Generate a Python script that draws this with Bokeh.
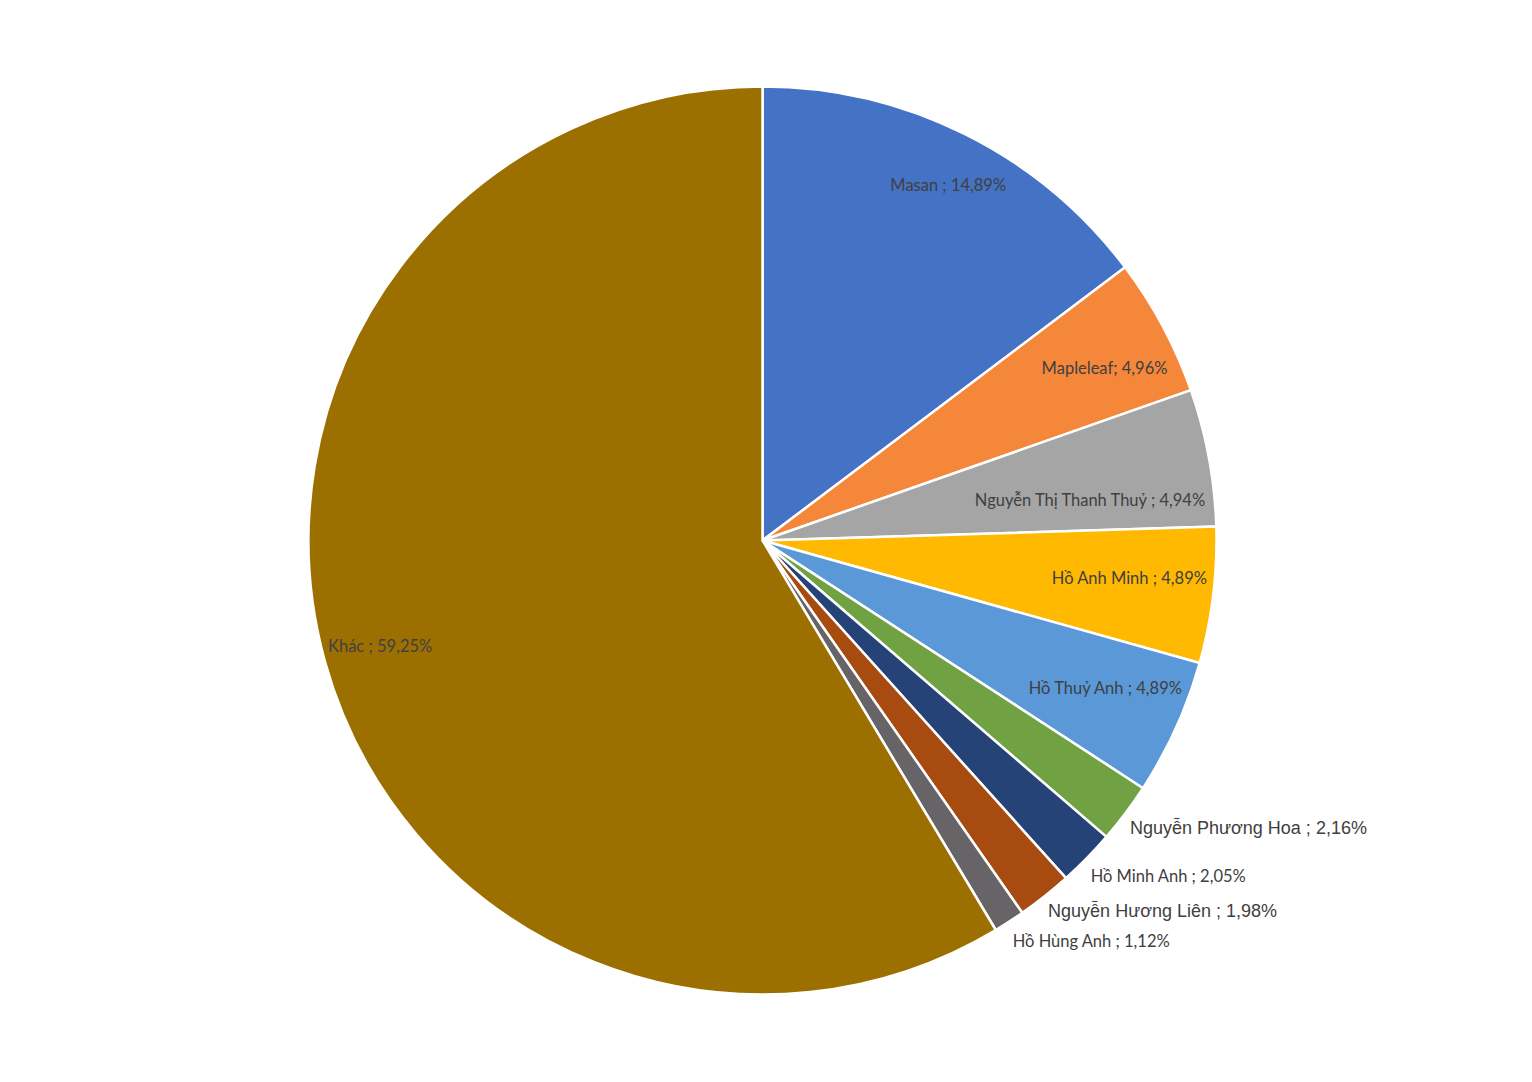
import math
from bokeh.plotting import figure
from bokeh.models import ColumnDataSource
from bokeh.core.properties import value
from bokeh.embed import file_html
from bokeh.resources import INLINE

# ---- data ----
names = ["Masan", "Mapleleaf", "Nguyễn Thị Thanh Thuỷ", "Hồ Anh Minh", "Hồ Thuỷ Anh",
         "Nguyễn Phương Hoa", "Hồ Minh Anh", "Nguyễn Hương Liên", "Hồ Hùng Anh", "Khác"]
shares = [14.89, 4.96, 4.94, 4.89, 4.89, 2.16, 2.05, 1.98, 1.12, 59.25]
label_texts = ["Masan ; 14,89%", "Mapleleaf; 4,96%", "Nguyễn Thị Thanh Thuỷ ; 4,94%",
               "Hồ Anh Minh ; 4,89%", "Hồ Thuỷ Anh ; 4,89%", "Nguyễn Phương Hoa ; 2,16%",
               "Hồ Minh Anh ; 2,05%", "Nguyễn Hương Liên ; 1,98%", "Hồ Hùng Anh ; 1,12%",
               "Khác ; 59,25%"]

# ---- styles ----
colors = ["#4472C4", "#F5873A", "#A5A5A5", "#FFB900", "#5A98D8",
          "#70A244", "#254377", "#A84B10", "#666466", "#9C7000"]
# label placement: (radius fraction, angle in degrees clockwise from top, align)
label_pos = [(0.883, 27.6, "center"), (0.844, 63.2, "center"), (0.729, 82.9, "center"),
             (0.813, 95.9, "center"), (0.824, 113.3, "center"), (1.027, 128.0, "left"),
             (1.033, 135.6, "left"), (1.031, 142.4, "left"), (1.040, 148.0, "left"),
             (0.985, 256.3, "left")]
label_font = ["Lato", "Lato", "Lato", "Lato", "Lato", "Liberation Sans",
              "Lato", "Liberation Sans", "Lato", "Lato"]
label_size = ["16.5px", "16.5px", "16.5px", "16.5px", "16.5px", "18px",
              "16.5px", "18px", "16.5px", "16.5px"]

W, H = 1516, 1066
CX, CY, R = 762, 526, 454

total = sum(shares)
starts, ends = [], []
acc = 0.0
for s in shares:
    a0 = acc / total * 2 * math.pi
    acc += s
    a1 = acc / total * 2 * math.pi
    starts.append(math.pi / 2 - a0)
    ends.append(math.pi / 2 - a1)

src = ColumnDataSource(dict(name=names, share=shares, start=starts, end=ends, color=colors))

p = figure(width=W, height=H, x_range=(0, W), y_range=(0, H),
           output_backend="svg", toolbar_location=None,
           x_axis_location=None, y_axis_location=None, min_border=0)
p.grid.visible = False
p.outline_line_color = None
p.background_fill_color = "white"

p.wedge(x=CX, y=CY, radius=R, start_angle="start", end_angle="end", direction="clock",
        fill_color="color", line_color="white", line_width=2.5, source=src)

for i, txt in enumerate(label_texts):
    rf, ang, align = label_pos[i]
    a = math.radians(ang)
    x = CX + rf * R * math.sin(a)
    y = CY + rf * R * math.cos(a)
    p.text(x=[x], y=[y], text=[txt], text_font=value(label_font[i]),
           text_font_size=label_size[i], text_color="#404040",
           text_align=align, text_baseline="middle")

open("out.html", "w").write(file_html(p, INLINE))
